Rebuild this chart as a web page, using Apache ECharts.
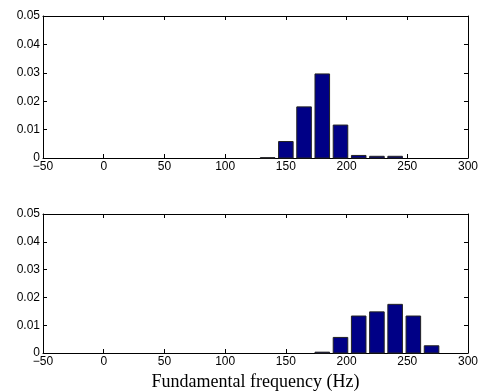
<!DOCTYPE html>
<html>
<head>
<meta charset="utf-8">
<script src="https://cdn.jsdelivr.net/npm/echarts@6/dist/echarts.min.js"></script>
<style>html,body{margin:0;padding:0;background:#fff}#c{width:481px;height:392px}</style>
</head>
<body>
<div id="c"></div>
<script>
// Data
var binWidth = 15; // Hz
var topCenters = [135, 150, 165, 180, 195, 210, 225, 240];
var topValues = [0.0001, 0.0058, 0.0180, 0.0296, 0.0116, 0.0009, 0.0006, 0.0006];
var bottomCenters = [180, 195, 210, 225, 240, 255, 270];
var bottomValues = [0.0003, 0.0056, 0.0133, 0.0148, 0.0175, 0.0133, 0.0026];
var xTicks = [-50, 0, 50, 100, 150, 200, 250, 300];
var yTicks = [0, 0.01, 0.02, 0.03, 0.04, 0.05];
var xLabelText = 'Fundamental frequency (Hz)';

var chart = echarts.init(document.getElementById('c'), null, {renderer: 'canvas'});
var lblFont = {fontFamily: 'Liberation Sans, Arial, sans-serif', fontSize: 12, color: '#000'};

function pairs(xs, ys) { return xs.map(function (x, i) { return [x, ys[i]]; }); }

function xAx(grid, pos, labels, name) {
  return {
    type: 'value', gridIndex: grid, position: pos,
    min: xTicks[0], max: xTicks[xTicks.length - 1], interval: 50,
    axisLine: {show: true, onZero: false, lineStyle: {color: '#000', width: 1}},
    axisTick: {show: true, inside: true, length: 4, lineStyle: {color: '#000'}},
    axisLabel: labels ? Object.assign({show: true, margin: 3,
      formatter: function (v) { return v < 0 ? '\u2212' + Math.abs(v) : String(v); }}, lblFont) : {show: false},
    splitLine: {show: false},
    name: name || '', nameLocation: 'middle', nameGap: 20,
    nameTextStyle: {fontFamily: 'Liberation Serif, Times New Roman, serif', fontSize: 18, color: '#000'}
  };
}
function yAx(grid, pos, labels) {
  return {
    type: 'value', gridIndex: grid, position: pos,
    min: yTicks[0], max: yTicks[yTicks.length - 1], interval: 0.01,
    axisLine: {show: true, onZero: false, lineStyle: {color: '#000', width: 1}},
    axisTick: {show: true, inside: true, length: 4, lineStyle: {color: '#000'}},
    axisLabel: labels ? Object.assign({show: true, margin: 3,
      formatter: function (v) { return v === 0 ? '0' : v.toFixed(2); }}, lblFont) : {show: false},
    splitLine: {show: false}
  };
}

function barSeries(xi, yi, data) {
  return {
    type: 'custom', xAxisIndex: xi, yAxisIndex: yi, data: data,
    renderItem: function (params, api) {
      var x = api.value(0), y = api.value(1);
      var half = binWidth * 0.8 / 2;
      var p0 = api.coord([x - half, y]);
      var p1 = api.coord([x + half, 0]);
      return {
        type: 'rect',
        shape: {x: p0[0], y: p0[1], width: p1[0] - p0[0], height: p1[1] - p0[1]},
        style: {fill: '#000086', stroke: '#222', lineWidth: 1}
      };
    }
  };
}

chart.setOption({
  animation: false,
  backgroundColor: '#fff',
  grid: [
    {left: 43, right: 9, top: 16, height: 142},
    {left: 43, right: 9, top: 214, height: 140}
  ],
  xAxis: [
    xAx(0, 'bottom', true), xAx(0, 'top', false),
    xAx(1, 'bottom', true, xLabelText), xAx(1, 'top', false)
  ],
  yAxis: [
    yAx(0, 'left', true), yAx(0, 'right', false),
    yAx(1, 'left', true), yAx(1, 'right', false)
  ],
  series: [
    barSeries(0, 0, pairs(topCenters, topValues)),
    barSeries(2, 2, pairs(bottomCenters, bottomValues))
  ]
});
</script>
</body>
</html>
